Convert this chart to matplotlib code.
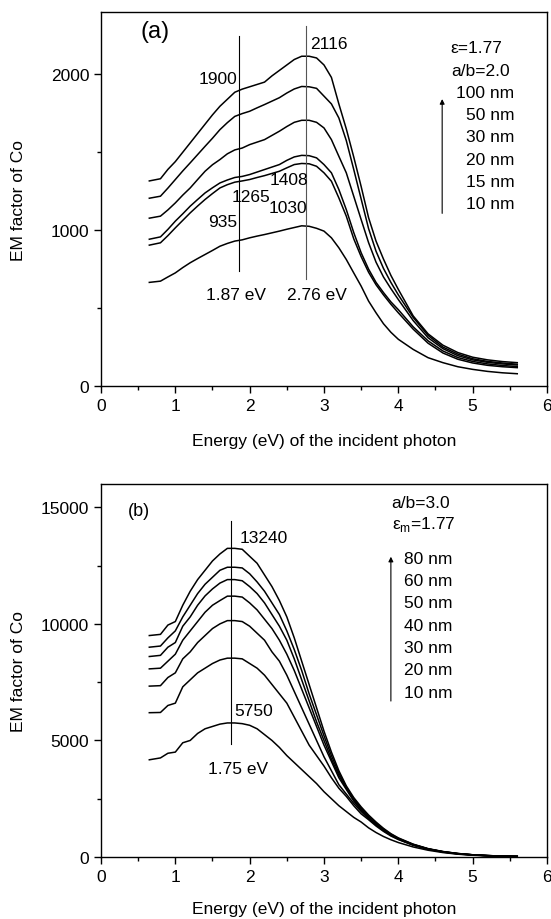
import matplotlib
matplotlib.use("Agg")
import matplotlib.pyplot as plt
from matplotlib.ticker import MultipleLocator

plt.rcParams['font.family'] = ['Liberation Sans', 'DejaVu Sans']

# photon energy grid (eV), shared by both panels
energy = [0.65, 0.8, 0.9, 1.0, 1.1, 1.2, 1.3, 1.4, 1.5, 1.6, 1.7, 1.8, 1.9,
          2.0, 2.1, 2.2, 2.3, 2.4, 2.5, 2.6, 2.7, 2.8, 2.9, 3.0, 3.1, 3.2,
          3.3, 3.4, 3.5, 3.6, 3.7, 3.8, 3.9, 4.0, 4.2, 4.4, 4.6, 4.8, 5.0,
          5.2, 5.4, 5.6]

# panel (a): a/b = 2.0
labels_a = ["100 nm", "50 nm", "30 nm", "20 nm", "15 nm", "10 nm"]
em_a_100 = [1316, 1330, 1390, 1440, 1500, 1560, 1620, 1680, 1740, 1795, 1840,
            1885, 1905, 1920, 1935, 1950, 1990, 2025, 2060, 2095, 2116, 2116,
            2105, 2060, 1980, 1810, 1650, 1470, 1280, 1080, 930, 815, 710, 620,
            450, 335, 262, 215, 185, 168, 157, 150]
em_a_50 = [1205, 1218, 1270, 1325, 1380, 1432, 1485, 1538, 1590, 1645, 1690,
           1730, 1748, 1763, 1785, 1806, 1828, 1850, 1880, 1906, 1922, 1920,
           1910, 1860, 1810, 1720, 1575, 1390, 1200, 1010, 865, 755, 665, 585,
           440, 325, 250, 205, 175, 158, 148, 140]
em_a_30 = [1077, 1090, 1130, 1175, 1225, 1271, 1325, 1378, 1420, 1453, 1490,
           1515, 1527, 1549, 1565, 1581, 1608, 1635, 1665, 1692, 1705, 1705,
           1692, 1656, 1581, 1474, 1368, 1218, 1068, 920, 795, 700, 625, 555,
           420, 310, 240, 195, 168, 152, 142, 135]
em_a_20 = [942, 957, 1005, 1058, 1105, 1154, 1197, 1239, 1272, 1303, 1322,
           1338, 1345, 1357, 1373, 1389, 1405, 1421, 1448, 1470, 1480, 1478,
           1464, 1421, 1368, 1261, 1132, 985, 855, 750, 665, 600, 540, 490,
           380, 290, 225, 183, 158, 142, 132, 125]
em_a_15 = [904, 919, 965, 1015, 1063, 1111, 1155, 1197, 1235, 1271, 1292,
           1308, 1316, 1325, 1338, 1350, 1364, 1378, 1400, 1421, 1428, 1426,
           1410, 1368, 1314, 1207, 1090, 945, 830, 730, 650, 585, 525, 470,
           365, 275, 212, 172, 148, 133, 124, 118]
em_a_10 = [665, 673, 700, 726, 760, 791, 818, 844, 870, 897, 915, 930, 938,
           951, 962, 972, 983, 994, 1006, 1017, 1028, 1025, 1012, 994, 951,
           887, 812, 726, 641, 545, 470, 400, 345, 300, 235, 182, 150, 124,
           107, 94, 85, 79]

# panel (b): a/b = 3.0
labels_b = ["80 nm", "60 nm", "50 nm", "40 nm", "30 nm", "20 nm", "10 nm"]
em_b_80 = [9500, 9550, 9950, 10100, 10800, 11400, 11900, 12300, 12700, 13000,
           13240, 13240, 13200, 12900, 12600, 12100, 11600, 11000, 10300, 9400,
           8400, 7400, 6400, 5400, 4500, 3700, 3050, 2550, 2150, 1800, 1500,
           1230, 1000, 820, 550, 360, 235, 150, 95, 60, 40, 25]
em_b_60 = [9000, 9050, 9400, 9700, 10300, 10800, 11300, 11700, 12000, 12300,
           12430, 12430, 12400, 12150, 11800, 11400, 10900, 10400, 9700, 8900,
           8000, 7000, 6100, 5200, 4350, 3600, 3000, 2500, 2100, 1750, 1450,
           1200, 980, 800, 540, 350, 230, 150, 95, 60, 40, 25]
em_b_50 = [8600, 8650, 9000, 9200, 9900, 10300, 10800, 11200, 11500, 11750,
           11900, 11900, 11850, 11600, 11300, 10900, 10400, 9900, 9300, 8500,
           7600, 6700, 5800, 5000, 4200, 3500, 2950, 2450, 2050, 1700, 1400,
           1150, 950, 780, 530, 345, 225, 145, 92, 58, 38, 24]
em_b_40 = [8070, 8100, 8400, 8700, 9300, 9700, 10100, 10500, 10800, 11000,
           11190, 11190, 11150, 10900, 10600, 10200, 9800, 9300, 8700, 8000,
           7200, 6400, 5600, 4800, 4100, 3400, 2900, 2400, 2000, 1650, 1380,
           1130, 930, 760, 520, 340, 220, 140, 90, 57, 37, 23]
em_b_30 = [7330, 7350, 7700, 7900, 8500, 8800, 9200, 9500, 9800, 10000,
           10140, 10140, 10100, 9900, 9600, 9300, 8800, 8400, 7800, 7100,
           6400, 5700, 5000, 4300, 3700, 3100, 2700, 2300, 1950, 1650, 1380,
           1150, 950, 780, 520, 340, 220, 140, 90, 60, 40, 25]
em_b_20 = [6190, 6200, 6500, 6600, 7300, 7600, 7900, 8100, 8300, 8450,
           8530, 8530, 8500, 8300, 8100, 7800, 7400, 7000, 6600, 6000,
           5400, 4800, 4350, 3900, 3400, 2950, 2600, 2200, 1850, 1600, 1330,
           1100, 900, 750, 500, 330, 210, 130, 85, 55, 35, 25]
em_b_10 = [4170, 4250, 4450, 4500, 4900, 5000, 5300, 5500, 5600, 5700,
           5750, 5750, 5720, 5650, 5500, 5250, 5000, 4700, 4350, 4050,
           3750, 3450, 3150, 2800, 2500, 2200, 1950, 1700, 1500, 1250, 1050,
           880, 740, 620, 430, 290, 190, 120, 75, 50, 30, 20]

curves_a = [em_a_100, em_a_50, em_a_30, em_a_20, em_a_15, em_a_10]
curves_b = [em_b_80, em_b_60, em_b_50, em_b_40, em_b_30, em_b_20, em_b_10]

FS = 12.5

fig = plt.figure(figsize=(5.51, 9.2), dpi=100)
ax1 = fig.add_axes([0.1833, 0.5793, 0.8094, 0.4066])
ax2 = fig.add_axes([0.1833, 0.0674, 0.8094, 0.4054])

for ys in curves_a:
    ax1.plot(energy, ys, color='black', lw=1.1)
for ys in curves_b:
    ax2.plot(energy, ys, color='black', lw=1.1)

# panel (a) annotations
ax1.plot([1.85, 1.85], [737, 2244], color='black', lw=0.8)
ax1.plot([2.76, 2.76], [684, 2308], color='#555555', lw=0.8)
ax1.text(0.73, 2276, "(a)", fontsize=17, ha='center', va='center')
ax1.text(1.57, 1976, "1900", fontsize=FS, ha='center', va='center')
ax1.text(3.07, 2200, "2116", fontsize=FS, ha='center', va='center')
ax1.text(2.53, 1325, "1408", fontsize=FS, ha='center', va='center')
ax1.text(2.02, 1218, "1265", fontsize=FS, ha='center', va='center')
ax1.text(2.52, 1143, "1030", fontsize=FS, ha='center', va='center')
ax1.text(1.64, 1058, "935", fontsize=FS, ha='center', va='center')
ax1.text(1.81, 588, "1.87 eV", fontsize=FS, ha='center', va='center')
ax1.text(2.90, 588, "2.76 eV", fontsize=FS, ha='center', va='center')
ax1.text(5.05, 2169, "ε=1.77", fontsize=FS, ha='center', va='center')
ax1.text(5.10, 2024, "a/b=2.0", fontsize=FS, ha='center', va='center')
for i, lab in enumerate(labels_a):
    ax1.text(5.56, 1885 - i * 143, lab, fontsize=FS, ha='right', va='center')
ax1.annotate("", xy=(4.59, 1859), xytext=(4.59, 1090),
             arrowprops=dict(arrowstyle='-|>', color='black', lw=0.8,
                             mutation_scale=7))

# panel (b) annotations
ax2.plot([1.75, 1.75], [4860, 14430], color='black', lw=0.8)
ax2.text(0.51, 14857, "(b)", fontsize=FS + 0.5, ha='center', va='center')
ax2.text(2.19, 13714, "13240", fontsize=FS, ha='center', va='center')
ax2.text(2.06, 6286, "5750", fontsize=FS, ha='center', va='center')
ax2.text(1.85, 3786, "1.75 eV", fontsize=FS, ha='center', va='center')
ax2.text(3.91, 15214, "a/b=3.0", fontsize=FS, ha='left', va='center')
ax2.text(3.91, 14286, r"ε$_{\mathregular{m}}$=1.77", fontsize=FS, ha='left',
         va='center')
for i, lab in enumerate(labels_b):
    ax2.text(4.08, 12814 - i * 957, lab, fontsize=FS, ha='left', va='center')
ax2.annotate("", xy=(3.9, 13000), xytext=(3.9, 6571),
             arrowprops=dict(arrowstyle='-|>', color='black', lw=0.8,
                             mutation_scale=7))

ax1.set_ylim(0, 2400)
ax1.yaxis.set_major_locator(MultipleLocator(1000))
ax1.yaxis.set_minor_locator(MultipleLocator(500))
ax2.set_ylim(0, 16000)
ax2.yaxis.set_major_locator(MultipleLocator(5000))
ax2.yaxis.set_minor_locator(MultipleLocator(2500))

for ax in (ax1, ax2):
    ax.set_xlim(0, 6)
    ax.xaxis.set_major_locator(MultipleLocator(1))
    ax.xaxis.set_minor_locator(MultipleLocator(0.5))
    ax.tick_params(which='major', direction='out', length=5, width=1,
                   labelsize=FS)
    ax.tick_params(which='minor', direction='out', length=3, width=1)
    for sp in ax.spines.values():
        sp.set_linewidth(1.0)
    ax.set_xlabel("Energy (eV) of the incident photon", fontsize=FS)
    ax.set_ylabel("EM factor of Co", fontsize=FS)
    ax.yaxis.set_label_coords(-0.168, 0.5)
ax1.xaxis.set_label_coords(0.5, -0.125)
ax2.xaxis.set_label_coords(0.5, -0.119)

fig.savefig("out.png", dpi=100)
